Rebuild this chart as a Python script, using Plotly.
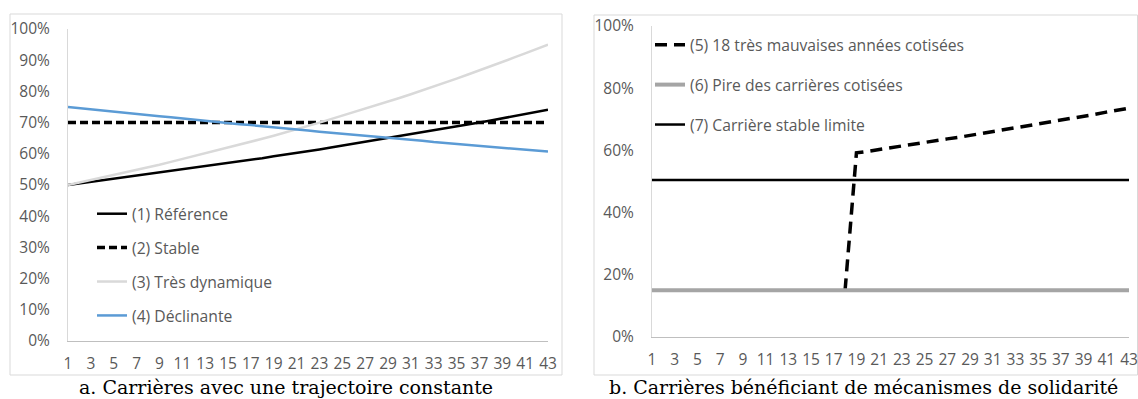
import plotly.graph_objects as go

W, H = 1138, 399

years = list(range(1, 44))
xtick_vals = list(range(1, 44, 2))

# Panel a (values in %)
ref_1 = [50.0, 50.5, 50.9, 51.4, 51.9, 52.4, 52.9, 53.4, 53.9, 54.4, 54.9, 55.4, 55.9, 56.5, 57.0,
         57.5, 58.1, 58.6, 59.2, 59.7, 60.3, 60.9, 61.4, 62.0, 62.6, 63.2, 63.8, 64.4, 65.0, 65.6,
         66.2, 66.8, 67.5, 68.1, 68.7, 69.4, 70.0, 70.7, 71.4, 72.0, 72.7, 73.4, 74.1]
stable_2 = [70.0] * 43
dyn_3 = [50.0, 50.8, 51.6, 52.3, 53.2, 54.0, 54.8, 55.6, 56.5, 57.4, 58.3, 59.2, 60.1, 61.0, 61.9,
         62.9, 63.9, 64.8, 65.8, 66.8, 67.9, 68.9, 70.0, 71.1, 72.2, 73.3, 74.4, 75.5, 76.7, 77.9,
         79.1, 80.3, 81.5, 82.8, 84.1, 85.4, 86.7, 88.0, 89.4, 90.8, 92.2, 93.6, 95.0]
decl_4 = [75.0, 74.6, 74.3, 73.9, 73.5, 73.1, 72.8, 72.4, 72.0, 71.7, 71.3, 71.0, 70.6, 70.3, 69.9,
          69.5, 69.2, 68.9, 68.5, 68.2, 67.8, 67.5, 67.1, 66.8, 66.5, 66.1, 65.8, 65.5, 65.1, 64.8,
          64.5, 64.2, 63.8, 63.5, 63.2, 62.9, 62.6, 62.3, 61.9, 61.6, 61.3, 61.0, 60.7]

# Panel b (values in %) - series 5 only visible from year 18
bad18_5 = [None] * 17 + [15.0] + [59.2, 59.7, 60.3, 60.8, 61.4, 62.0, 62.5, 63.1, 63.7, 64.2, 64.8,
                                  65.4, 66.0, 66.6, 67.2, 67.8, 68.5, 69.1, 69.7, 70.3, 71.0, 71.6,
                                  72.3, 72.9, 73.6]
worst_6 = [15.0] * 43
limit_7 = [50.5] * 43

names_a = ["(1) Référence", "(2) Stable", "(3) Très dynamique", "(4) Déclinante"]
names_b = ["(5) 18 très mauvaises années cotisées", "(6) Pire des carrières cotisées",
           "(7) Carrière stable limite"]
captions = ["a. Carrières avec une trajectoire constante",
            "b. Carrières bénéficiant de mécanismes de solidarité"]

TXT = "#595959"
FONT = "Open Sans"

fig = go.Figure()

def px_x(p):
    return p / W

def px_y(p):
    return 1 - p / H

# Panel a traces
fig.add_trace(go.Scatter(x=years, y=ref_1, name=names_a[0], mode="lines",
                         line=dict(color="#000000", width=2.5), legendgroup="a1",
                         xaxis="x", yaxis="y", legend="legend"))
fig.add_trace(go.Scatter(x=years, y=stable_2, name=names_a[1], mode="lines",
                         line=dict(color="#000000", width=3.5, dash="8px,4px"), legendgroup="a2",
                         xaxis="x", yaxis="y", legend="legend"))
fig.add_trace(go.Scatter(x=years, y=dyn_3, name=names_a[2], mode="lines",
                         line=dict(color="#d9d9d9", width=2.5), legendgroup="a3",
                         xaxis="x", yaxis="y", legend="legend"))
fig.add_trace(go.Scatter(x=years, y=decl_4, name=names_a[3], mode="lines",
                         line=dict(color="#5b9bd5", width=2.5), legendgroup="a4",
                         xaxis="x", yaxis="y", legend="legend"))

# Panel b traces
fig.add_trace(go.Scatter(x=years, y=bad18_5, name=names_b[0], mode="lines",
                         line=dict(color="#000000", width=3.5, dash="12px,7px"), legendgroup="b5",
                         connectgaps=False, xaxis="x2", yaxis="y2", legend="legend2"))
fig.add_trace(go.Scatter(x=years, y=worst_6, name=names_b[1], mode="lines",
                         line=dict(color="#a5a5a5", width=4), legendgroup="b6",
                         xaxis="x2", yaxis="y2", legend="legend2"))
fig.add_trace(go.Scatter(x=years, y=limit_7, name=names_b[2], mode="lines",
                         line=dict(color="#000000", width=2.5), legendgroup="b7",
                         xaxis="x2", yaxis="y2", legend="legend2"))

axis_font = dict(family=FONT, size=15.5, color=TXT)

common_x = dict(range=[1, 43], tickvals=xtick_vals, showgrid=False, zeroline=False,
                showline=True, linecolor="#bfbfbf", linewidth=1, ticks="",
                ticklabelstandoff=8, fixedrange=True, automargin=False,
                ticklabeloverflow="allow", tickfont=axis_font)
common_y = dict(range=[0, 100], showgrid=False, zeroline=False, showline=True,
                linecolor="#d9d9d9", linewidth=1, ticks="", ticksuffix="%",
                tickfont=axis_font, ticklabelstandoff=14, fixedrange=True, automargin=False,
                ticklabeloverflow="allow")

fig.update_layout(
    template="none",
    width=W, height=H,
    margin=dict(l=0, r=0, t=0, b=0, pad=0, autoexpand=False),
    paper_bgcolor="white", plot_bgcolor="white",
    showlegend=True,
    xaxis=dict(domain=[px_x(68), px_x(548)], anchor="y", **common_x),
    yaxis=dict(domain=[px_y(341), px_y(29)], anchor="x", dtick=10, **common_y),
    xaxis2=dict(domain=[px_x(652), px_x(1129)], anchor="y2", **common_x),
    yaxis2=dict(domain=[px_y(337), px_y(26)], anchor="x2", dtick=20, **common_y),
    legend=dict(x=px_x(92), y=px_y(197), xanchor="left", yanchor="top",
                bgcolor="rgba(0,0,0,0)", font=dict(family=FONT, size=15.7, color=TXT),
                itemwidth=30, tracegroupgap=10.5, traceorder="grouped"),
    legend2=dict(x=px_x(650), y=px_y(28), xanchor="left", yanchor="top",
                 bgcolor="rgba(0,0,0,0)", font=dict(family=FONT, size=15.7, color=TXT),
                 itemwidth=30, tracegroupgap=16.5, traceorder="grouped"),
    shapes=[
        dict(type="rect", xref="paper", yref="paper", x0=px_x(10), x1=px_x(562),
             y0=px_y(375), y1=px_y(14), line=dict(color="#d9d9d9", width=1), layer="below"),
        dict(type="rect", xref="paper", yref="paper", x0=px_x(594), x1=px_x(1137.5),
             y0=px_y(375), y1=px_y(15), line=dict(color="#d9d9d9", width=1), layer="below"),
    ],
    annotations=[
        dict(text=captions[0], xref="paper", yref="paper", x=px_x(286), y=px_y(387),
             xanchor="center", yanchor="middle", showarrow=False,
             font=dict(family="DejaVu Serif", size=19, color="#000000")),
        dict(text=captions[1], xref="paper", yref="paper", x=px_x(863), y=px_y(387),
             xanchor="center", yanchor="middle", showarrow=False,
             font=dict(family="DejaVu Serif", size=19, color="#000000")),
    ],
)

# Remove the browser's default 8px page margin so the figure fills the window exactly.
fig.write_html("out.html",
               config={"displayModeBar": False},
               post_script="document.body.style.margin='0px';document.body.style.overflow='hidden';")
